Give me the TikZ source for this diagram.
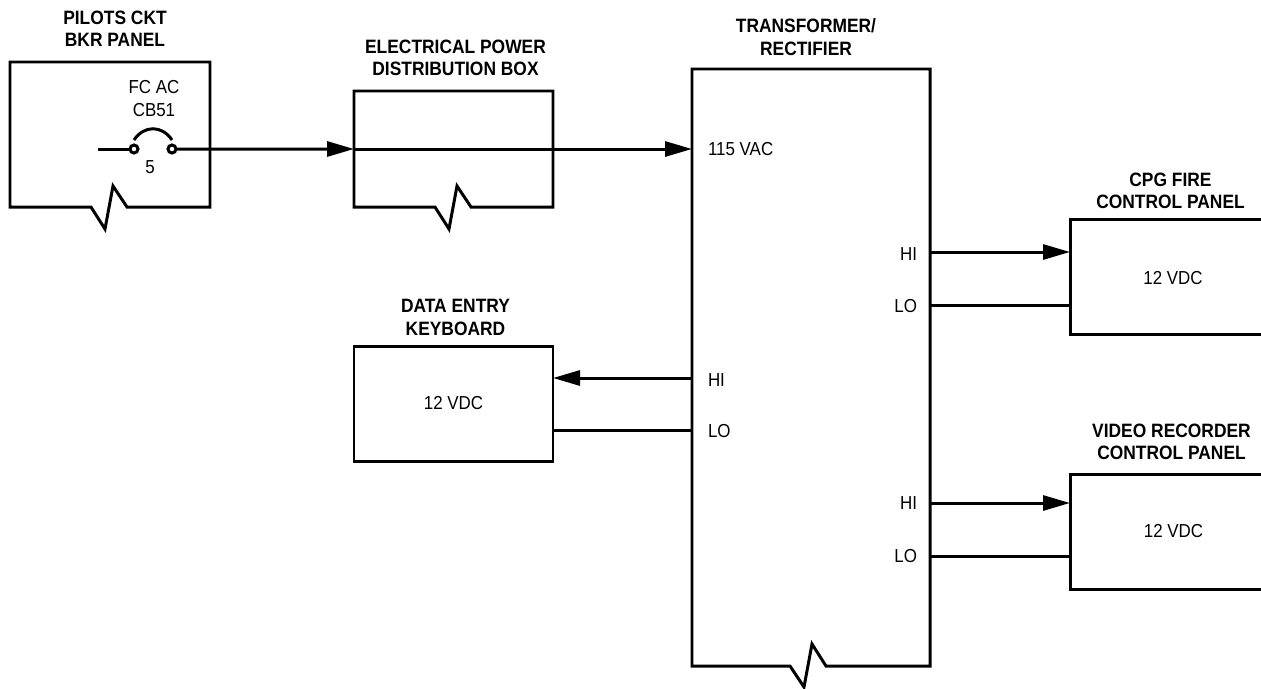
\documentclass[tikz,border=0pt]{standalone}
\usepackage{fontspec}
\setmainfont[FakeStretch=0.9]{Liberation Sans}
\usetikzlibrary{positioning,arrows.meta}

\begin{document}
\begin{tikzpicture}[
    line width=1.7pt,
    every node/.style={
        align=center,
        outer sep=0pt,
        inner sep=0pt,
        font=\fontsize{10.7}{13}\selectfont
    },
    box/.style={draw, minimum width=3.98cm, minimum height=2.3cm},
    openbox/.style={minimum width=#1},
    title/.style={font=\fontsize{11}{12.8}\selectfont\bfseries},
    pinlabel/.style={text height=0.32cm},
    terminal/.style={draw, circle, minimum size=0.16cm},
    arrow/.style={-{Triangle[length=0.54cm,width=0.3cm]}}
]
\useasboundingbox (0,0) rectangle (25.22,-13.76);

% boxes
\node (panel) [openbox=4cm, minimum height=2.9cm] at (2.2,-2.69) {};
\node (dist) [openbox=3.98cm, minimum height=2.32cm, right=2.88cm of panel.south east, anchor=south west] {};
\node (tr) [openbox=4.76cm, minimum height=11.94cm, right=2.78cm of dist.north east, anchor=north west, yshift=0.44cm] {};
\node (kbd) [box, below=2.78cm of dist] {12 VDC};
\node (cpg) [box, minimum width=3.84cm, right=2.8cm of tr.north east, anchor=north west, yshift=-3cm] {};
\node (video) [box, minimum width=3.84cm, below=2.8cm of cpg] {};

\draw (panel.south west) -- (panel.north west) -- (panel.north east) -- (panel.south east)
    -- ++(-1.66,0) -- ++(-0.28,0.42) -- ++(-0.16,-0.86) -- ++(-0.28,0.44) -- cycle;
\draw (dist.south west) -- (dist.north west) -- (dist.north east) -- (dist.south east)
    -- ++(-1.64,0) -- ++(-0.28,0.42) -- ++(-0.16,-0.86) -- ++(-0.28,0.44) -- cycle;
\draw (tr.south west) -- (tr.north west) -- (tr.north east) -- (tr.south east)
    -- ++(-2.08,0) -- ++(-0.28,0.44) -- ++(-0.16,-0.86) -- ++(-0.28,0.42) -- cycle;

% titles
\node (paneltitle) [title, above=0.31cm of panel, xshift=0.1cm] {PILOTS CKT\\BKR PANEL};
\node (disttitle) [title, above=0.3cm of dist, xshift=0.04cm] {ELECTRICAL POWER\\DISTRIBUTION BOX};
\node (trtitle) [title, above=0.27cm of tr, xshift=-0.1cm] {TRANSFORMER/\\RECTIFIER};
\node (kbdtitle) [title, above=0.21cm of kbd, xshift=0.04cm] {DATA ENTRY\\KEYBOARD};
\node (cpgtitle) [title, above=0.2cm of cpg, xshift=0.09cm] {CPG FIRE\\CONTROL PANEL};
\node (videotitle) [title, above=0.28cm of video, xshift=0.11cm] {VIDEO RECORDER\\CONTROL PANEL};

% breaker
\node (sw1) [terminal] at (2.68,-2.98) {};
\node (sw2) [terminal, right=0.6cm of sw1] {};
\coordinate (swin) at (1.96,-2.98);
\node (cbname) [above=0.57cm of sw1, xshift=0.4cm] {FC AC\\CB51};
\node (cbrate) [below=0.16cm of sw1, xshift=0.32cm] {5};

% pin labels
\node (vac) [right=0.32cm of tr.north west, anchor=west, yshift=-1.6cm] {115 VAC};
\node (kbdhi) [pinlabel, right=0.32cm of tr.west, anchor=west, yshift=-0.21cm] {HI};
\node (kbdlo) [pinlabel, below=1.04cm of kbdhi.west, anchor=west] {LO};
\node (cpghi) [pinlabel, left=0.26cm of tr.north east, anchor=east, yshift=-3.66cm] {HI};
\node (cpglo) [pinlabel, left=0.26cm of tr.north east, anchor=east, yshift=-4.72cm] {LO};
\node (videohi) [left=0.26cm of tr.north east, anchor=east, yshift=-8.68cm] {HI};
\node (videolo) [left=0.26cm of tr.north east, anchor=east, yshift=-9.74cm] {LO};

% box texts
\node (cpgvolt) at ([xshift=0.14cm,yshift=-0.03cm]cpg.center) {12 VDC};
\node (videovolt) at ([xshift=0.15cm]video.center) {12 VDC};

% wires
\draw (swin) -- (sw1);
\draw (sw1.north) ++(0,0.1) coordinate (arcl);
\draw (sw2.north) ++(0,0.1) coordinate (arcr);
\draw (arcl) .. controls +(0.2,0.3) and +(-0.2,0.3) .. (arcr);
\draw[arrow] (sw2) -- (dist.west);
\draw[arrow] (dist.west) -- (tr.west |- dist.west);
\draw[arrow] (tr.west |- kbdhi) -- (kbd.east |- kbdhi);
\draw (tr.west |- kbdlo) -- (kbd.east |- kbdlo);
\draw[arrow] (tr.east |- cpghi) -- (cpg.west |- cpghi);
\draw (tr.east |- cpglo) -- (cpg.west |- cpglo);
\draw[arrow] (tr.east |- videohi) -- (video.west |- videohi);
\draw (tr.east |- videolo) -- (video.west |- videolo);

\end{tikzpicture}
\end{document}
